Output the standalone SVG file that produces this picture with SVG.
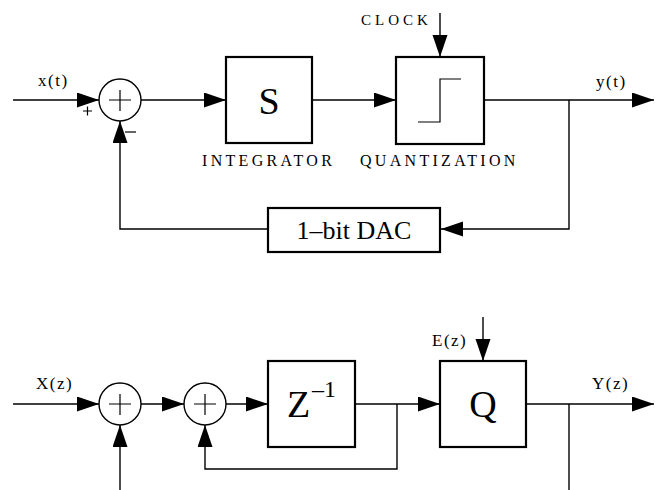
<svg xmlns="http://www.w3.org/2000/svg" width="666" height="490" viewBox="0 0 666 490" font-family="'Liberation Serif', 'Times New Roman', serif">
<defs>
<marker id="ah" markerUnits="userSpaceOnUse" markerWidth="23" markerHeight="16" refX="22" refY="7.5" orient="auto" viewBox="0 0 23 16">
<path d="M0,0 L22,7.5 L0,15 z" fill="#000"/>
</marker>
<style>
.box{fill:#fff;stroke:#000;stroke-width:2.2}
.sum{fill:#fff;stroke:#000;stroke-width:1.4}
.pl{stroke:#000;stroke-width:1.2;fill:none}
.con path{fill:none;stroke:#000;stroke-width:1.4}
.arr{marker-end:url(#ah)}
text{fill:#000}
.big{font-size:38px;text-anchor:middle}
.sm{font-size:17px;letter-spacing:1.5px}
.cap{font-size:16px;letter-spacing:3.3px}
</style>
</defs>
<rect width="666" height="490" fill="#fff"/>
<g class="con" id="connectors">
<path class="arr" d="M13,100 H99"/>
<path class="arr" d="M141,100 H226"/>
<path class="arr" d="M312,100 H396"/>
<path class="arr" d="M440,13 V57"/>
<path class="arr" d="M484,100 H654"/>
<path class="arr" d="M569,100 V229 H441"/>
<path class="arr" d="M268,229 H120 V121"/>
<path class="arr" d="M13,404 H99"/>
<path class="arr" d="M141,404 H184"/>
<path class="arr" d="M226,404 H268"/>
<path class="arr" d="M120,490 V425"/>
<path class="arr" d="M397,404 V469 H205 V425"/>
<path class="arr" d="M355,404 H440"/>
<path class="arr" d="M483,317 V361"/>
<path class="arr" d="M526,404 H654"/>
<path d="M569,404 V490"/>
</g>
<g id="sum1">
<circle class="sum" cx="120" cy="100" r="21"/>
<path class="pl" d="M109,100 H131 M120,90 V111"/>
<path class="pl" d="M83,111 H92 M87.5,106.5 V115.5"/>
<path class="pl" d="M125,132 H136"/>
</g>
<g id="integrator">
<rect class="box" x="226" y="57" width="86" height="86"/>
<text class="big" x="269" y="114" font-family="'Liberation Serif', serif">S</text>
<text class="cap" x="202" y="166" font-family="'Liberation Serif', serif">INTEGRATOR</text>
</g>
<g id="quantizer">
<rect class="box" x="396" y="57" width="88" height="87"/>
<path class="pl" d="M418,122 H440 V79 H461"/>
<text class="cap" x="360" y="166" font-family="'Liberation Serif', serif">QUANTIZATION</text>
</g>
<g id="clock"><text x="361" y="25" font-family="'Liberation Serif', serif" font-size="15" letter-spacing="4">CLOCK</text></g>
<g id="xt"><text class="sm" x="38" y="86" font-family="'Liberation Serif', serif">x(t)</text></g>
<g id="yt"><text class="sm" x="596" y="87" font-family="'Liberation Serif', serif">y(t)</text></g>
<g id="dac">
<rect class="box" x="268" y="208" width="172" height="44"/>
<text x="354" y="239" font-family="'Liberation Serif', serif" font-size="26" text-anchor="middle">1–bit DAC</text>
</g>
<g id="sum2">
<circle class="sum" cx="120" cy="404" r="21"/>
<path class="pl" d="M109,404 H131 M120,394 V415"/>
</g>
<g id="sum3">
<circle class="sum" cx="205" cy="404" r="21"/>
<path class="pl" d="M194,404 H216 M205,394 V415"/>
</g>
<g id="delay">
<rect class="box" x="268" y="361" width="87" height="86"/>
<text x="287" y="417" font-family="'Liberation Serif', serif" font-size="38">Z</text>
<text x="312" y="397" font-family="'Liberation Serif', serif" font-size="24">–1</text>
</g>
<g id="q">
<rect class="box" x="440" y="361" width="86" height="86"/>
<text class="big" x="483" y="417" font-family="'Liberation Serif', serif">Q</text>
</g>
<g id="xz"><text class="sm" x="36" y="389" font-family="'Liberation Serif', serif">X(z)</text></g>
<g id="ez"><text class="sm" x="432" y="346" font-family="'Liberation Serif', serif">E(z)</text></g>
<g id="yz"><text class="sm" x="592" y="389" font-family="'Liberation Serif', serif">Y(z)</text></g>
</svg>
